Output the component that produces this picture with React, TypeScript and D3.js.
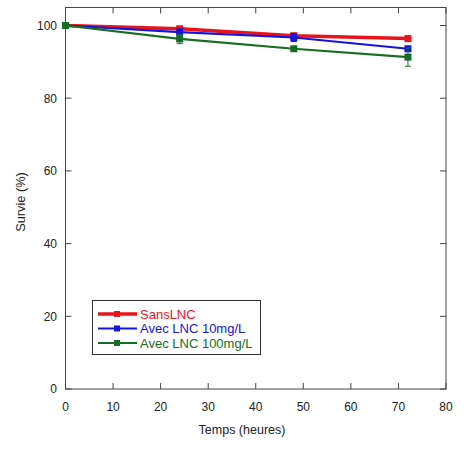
import React from "react";
import * as d3 from "d3";

const times = [0, 24, 48, 72];
const seriesNames = ["SansLNC", "Avec LNC 10mg/L", "Avec LNC 100mg/L"];
const seriesColors = ["#e8141c", "#1414e0", "#146e23"];
const sansLNC = [100, 99.1, 97.2, 96.4];
const avec10 = [100, 98.2, 96.7, 93.6];
const avec100 = [100, 96.3, 93.6, 91.3];
const errSans = [0, 0.5, 0.6, 0.4];
const err10 = [0, 0.8, 1.1, 0.6];
const err100 = [0, 1.3, 0.6, 2.5];
const xTicks = [0, 10, 20, 30, 40, 50, 60, 70, 80];
const yTicks = [0, 20, 40, 60, 80, 100];

const W = 467, H = 457;
const left = 65.5, right = 446, top = 7.5, bottom = 389;

export default function App() {
  const x = d3.scaleLinear().domain([0, 80]).range([left, right]);
  const y = d3.scaleLinear().domain([0, 100]).range([bottom, 25.5]);
  const data = [sansLNC, avec10, avec100];
  const errs = [errSans, err10, err100];
  const widths = [3.5, 2.2, 2.2];
  const line = d3.line<number>().x((_, i) => x(times[i])).y((v) => y(v));
  const font = "'Liberation Sans', Arial, sans-serif";
  const legY = [314, 328.5, 343];
  return (
    <svg width={W} height={H} style={{ position: "absolute", left: 0, top: 0 }} fontFamily={font}>
      <rect x={0} y={0} width={W} height={H} fill="#fff" />
      <rect x={left} y={top} width={right - left} height={bottom - top} fill="none" stroke="#444" strokeWidth={1} />
      {xTicks.map((t) => (
        <g key={"x" + t}>
          <line x1={x(t)} x2={x(t)} y1={bottom} y2={bottom - 6} stroke="#444" />
          <line x1={x(t)} x2={x(t)} y1={top} y2={top + 6} stroke="#444" />
          <text x={x(t)} y={411} fontSize={12} textAnchor="middle" fill="#222">{t}</text>
        </g>
      ))}
      {yTicks.map((t) => (
        <g key={"y" + t}>
          <line x1={left} x2={left + 6} y1={y(t)} y2={y(t)} stroke="#444" />
          <line x1={right} x2={right - 6} y1={y(t)} y2={y(t)} stroke="#444" />
          <text x={57} y={y(t) + 4.3} fontSize={12} textAnchor="end" fill="#222">{t}</text>
        </g>
      ))}
      <text x={242} y={434} fontSize={12.5} textAnchor="middle" fill="#222">Temps (heures)</text>
      <text transform={`translate(25,${202}) rotate(-90)`} fontSize={12.8} textAnchor="middle" fill="#222">Survie (%)</text>
      {data.map((s, si) => (
        <g key={"s" + si}>
          <path d={line(s) || ""} fill="none" stroke={seriesColors[si]} strokeWidth={widths[si]} />
          {s.map((v, i) => (
            <g key={i}>
              {errs[si][i] > 0 && (
                <g stroke={seriesColors[si]} strokeWidth={1}>
                  <line x1={x(times[i])} x2={x(times[i])} y1={y(v - errs[si][i])} y2={y(v + errs[si][i])} />
                  <line x1={x(times[i]) - 3} x2={x(times[i]) + 3} y1={y(v - errs[si][i])} y2={y(v - errs[si][i])} />
                  <line x1={x(times[i]) - 3} x2={x(times[i]) + 3} y1={y(v + errs[si][i])} y2={y(v + errs[si][i])} />
                </g>
              )}
              <rect x={x(times[i]) - 3.5} y={y(v) - 3.5} width={7} height={7} fill={seriesColors[si]} />
            </g>
          ))}
        </g>
      ))}
      <rect x={92.5} y={300.5} width={168} height={54} fill="#fff" stroke="#333" strokeWidth={1} />
      {seriesNames.map((n, i) => (
        <g key={"l" + i}>
          <line x1={98} x2={137} y1={legY[i]} y2={legY[i]} stroke={seriesColors[i]} strokeWidth={widths[i]} />
          <rect x={114} y={legY[i] - 3} width={6} height={6} fill={seriesColors[i]} />
          <text x={140} y={legY[i] + 4.5} fontSize={13} fill={seriesColors[i]}>{n}</text>
        </g>
      ))}
    </svg>
  );
}
